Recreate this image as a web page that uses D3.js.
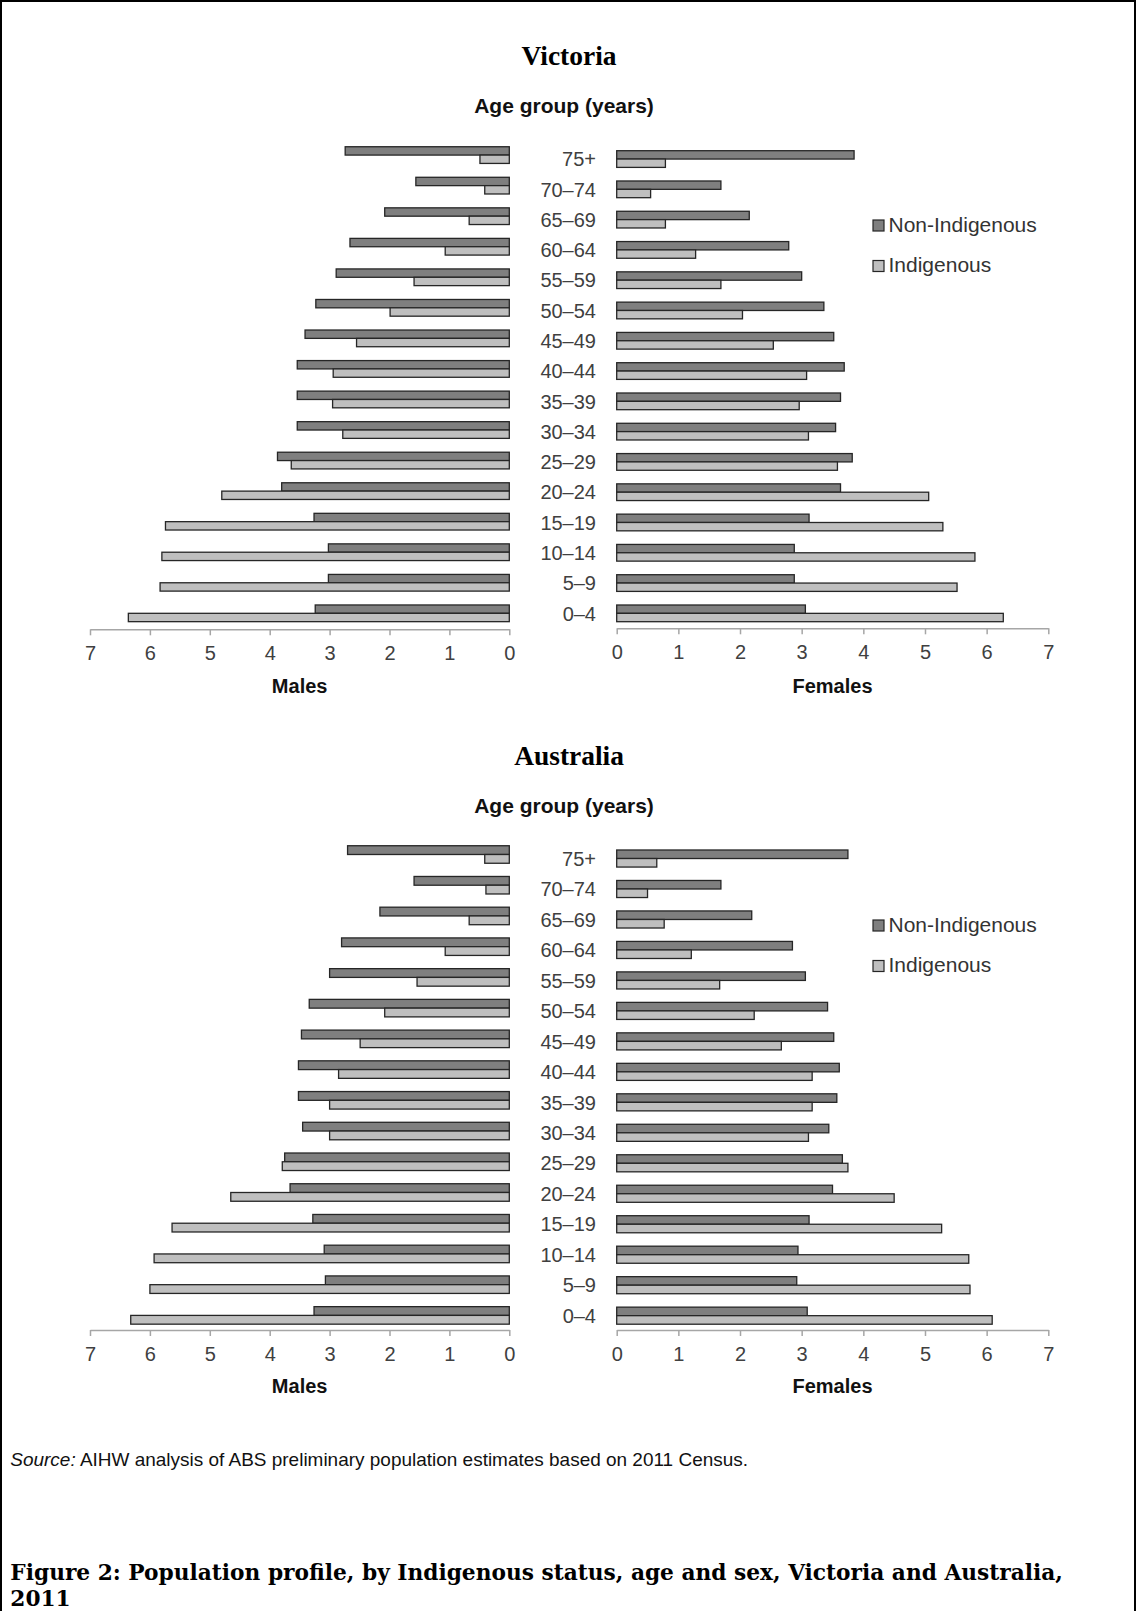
<!DOCTYPE html>
<html><head><meta charset="utf-8">
<script src="https://cdn.jsdelivr.net/npm/d3@7"></script>
<style>body{margin:0;background:#fff} svg{display:block}</style>
</head><body><div id="chart"></div>
<script>
// ---------- DATA ----------
const ageGroups = ["75+","70–74","65–69","60–64","55–59","50–54","45–49","40–44","35–39","30–34","25–29","20–24","15–19","10–14","5–9","0–4"];
const xTicks = [0,1,2,3,4,5,6,7];
const seriesNames = ["Non-Indigenous","Indigenous"];
const panelTitles = ["Victoria","Australia"];

const vicMalesNonIndigenous   = [2.74,1.56,2.08,2.66,2.89,3.23,3.41,3.54,3.54,3.54,3.87,3.80,3.26,3.02,3.02,3.24];
const vicMalesIndigenous      = [0.49,0.41,0.67,1.07,1.59,1.99,2.55,2.94,2.95,2.78,3.64,4.80,5.74,5.80,5.83,6.36];
const vicFemalesNonIndigenous = [3.85,1.69,2.15,2.79,3.00,3.36,3.52,3.69,3.63,3.55,3.82,3.63,3.12,2.88,2.88,3.06];
const vicFemalesIndigenous    = [0.79,0.55,0.79,1.28,1.69,2.04,2.54,3.08,2.96,3.11,3.58,5.06,5.29,5.81,5.52,6.27];

const ausMalesNonIndigenous   = [2.70,1.59,2.16,2.80,3.00,3.34,3.47,3.52,3.52,3.45,3.75,3.66,3.28,3.09,3.07,3.26];
const ausMalesIndigenous      = [0.41,0.39,0.67,1.07,1.54,2.08,2.49,2.85,3.00,3.00,3.79,4.65,5.63,5.93,6.00,6.32];
const ausFemalesNonIndigenous = [3.75,1.69,2.19,2.85,3.06,3.42,3.52,3.61,3.57,3.44,3.66,3.50,3.12,2.94,2.92,3.09];
const ausFemalesIndigenous    = [0.65,0.50,0.77,1.21,1.67,2.23,2.67,3.17,3.17,3.11,3.75,4.50,5.27,5.71,5.73,6.09];

const sourceLabel = "Source:";
const sourceText = " AIHW analysis of ABS preliminary population estimates based on 2011 Census.";
const captionLines = ["Figure 2: Population profile, by Indigenous status, age and sex, Victoria and Australia,","2011"];

// ---------- TABLES BUILT FROM DATA ----------
const panels = [
  {title: panelTitles[0], males: [vicMalesNonIndigenous, vicMalesIndigenous], females: [vicFemalesNonIndigenous, vicFemalesIndigenous]},
  {title: panelTitles[1], males: [ausMalesNonIndigenous, ausMalesIndigenous], females: [ausFemalesNonIndigenous, ausFemalesIndigenous]}
];

// ---------- LAYOUT / STYLE ----------
const W = 1136, H = 1611;
const SANS = "'Liberation Sans', Arial, Helvetica, sans-serif";
const SERIF = "'Liberation Serif', 'Times New Roman', serif";
const CAPSERIF = "'DejaVu Serif', 'Liberation Serif', serif";
const fills = ["#7f7f7f", "#bfbfbf"];
const barStroke = "#262626";
const textGrey = "#404040";
const layout = [
  {dy: 0,   male: {range:[139.1, 629.3], inner:0.4534, outer:0.25}, female: {range:[144.1, 628.3], inner:0.4487, outer:0.218}},
  {dy: 700, male: {range:[839.9, 1330],  inner:0.43,   outer:0.19}, female: {range:[844.2, 1330],  inner:0.44,   outer:0.19}}
];

const svg = d3.select("#chart").append("svg").attr("width", W).attr("height", H);
svg.append("rect").attr("width", W).attr("height", H).attr("fill", "#fff");
svg.append("rect").attr("x", 1).attr("y", 1).attr("width", W - 2).attr("height", H + 20)
  .attr("fill", "none").attr("stroke", "#000").attr("stroke-width", 2);

const xMale = d3.scaleLinear().domain([0, 7]).range([509.3, 90]);
const xFemale = d3.scaleLinear().domain([0, 7]).range([616.7, 1048.3]);

function fitWidth(sel, w) {
  const l = sel.node().getComputedTextLength();
  const fs = parseFloat(sel.attr("font-size"));
  sel.attr("font-size", (fs * w / l).toFixed(2));
  return fs * w / l;
}

let titleSize = null;
panels.forEach((p, pi) => {
  const L = layout[pi];
  const g = svg.append("g").attr("transform", `translate(0,${L.dy})`);

  const t = g.append("text").attr("x", 569).attr("y", 65).attr("text-anchor", "middle")
    .attr("font-family", SERIF).attr("font-weight", "bold").attr("font-size", 26).attr("fill", "#000")
    .text(p.title);
  if (titleSize === null) titleSize = fitWidth(t, 95); else t.attr("font-size", titleSize.toFixed(2));

  g.append("text").attr("x", 564).attr("y", 113).attr("text-anchor", "middle")
    .attr("font-family", SANS).attr("font-weight", "bold").attr("font-size", 21).attr("fill", "#111")
    .text("Age group (years)");

  const yM = d3.scaleBand().domain(ageGroups).range(L.male.range.map(v => v - L.dy))
    .paddingInner(L.male.inner).paddingOuter(L.male.outer);
  const yF = d3.scaleBand().domain(ageGroups).range(L.female.range.map(v => v - L.dy))
    .paddingInner(L.female.inner).paddingOuter(L.female.outer);

  p.males.forEach((arr, si) => {
    g.append("g").selectAll("rect").data(arr).join("rect")
      .attr("x", d => xMale(d))
      .attr("width", d => xMale(0) - xMale(d))
      .attr("y", (d, i) => yM(ageGroups[i]) + si * yM.bandwidth() / 2)
      .attr("height", yM.bandwidth() / 2)
      .attr("fill", fills[si]).attr("stroke", barStroke).attr("stroke-width", 1.3);
  });
  p.females.forEach((arr, si) => {
    g.append("g").selectAll("rect").data(arr).join("rect")
      .attr("x", xFemale(0))
      .attr("width", d => xFemale(d) - xFemale(0))
      .attr("y", (d, i) => yF(ageGroups[i]) + si * yF.bandwidth() / 2)
      .attr("height", yF.bandwidth() / 2)
      .attr("fill", fills[si]).attr("stroke", barStroke).attr("stroke-width", 1.3);
  });

  g.append("g").selectAll("text").data(ageGroups).join("text")
    .attr("x", 596).attr("y", d => yF(d) + yF.bandwidth() / 2)
    .attr("dy", "0.36em").attr("text-anchor", "end")
    .attr("font-family", SANS).attr("font-size", 20).attr("fill", textGrey)
    .text(d => d);

  function styleAxis(ax) {
    ax.select(".domain").attr("stroke", "#a6a6a6").attr("stroke-width", 1.5);
    ax.selectAll(".tick line").attr("stroke", "#a6a6a6").attr("stroke-width", 1.5);
    ax.selectAll(".tick text").attr("font-family", SANS).attr("font-size", 20).attr("fill", textGrey);
  }
  const axM = g.append("g").attr("transform", `translate(0,${L.male.range[1] - L.dy})`)
    .call(d3.axisBottom(xMale).tickValues(xTicks).tickSizeInner(6).tickSizeOuter(0).tickPadding(11).tickFormat(d3.format("d")));
  styleAxis(axM);
  const axF = g.append("g").attr("transform", `translate(0,${L.female.range[1] - L.dy})`)
    .call(d3.axisBottom(xFemale).tickValues(xTicks).tickSizeInner(6).tickSizeOuter(0).tickPadding(11).tickFormat(d3.format("d")));
  styleAxis(axF);

  g.append("text").attr("x", (xMale(0) + xMale(7)) / 2).attr("y", 693.3).attr("text-anchor", "middle")
    .attr("font-family", SANS).attr("font-weight", "bold").attr("font-size", 20).attr("fill", "#111").text("Males");
  g.append("text").attr("x", (xFemale(0) + xFemale(7)) / 2).attr("y", 693.3).attr("text-anchor", "middle")
    .attr("font-family", SANS).attr("font-weight", "bold").attr("font-size", 20).attr("fill", "#111").text("Females");

  const leg = g.append("g").selectAll("g").data(seriesNames).join("g")
    .attr("transform", (d, i) => `translate(873,${220 + i * 40.5})`);
  leg.append("rect").attr("width", 11).attr("height", 11)
    .attr("fill", (d, i) => fills[i]).attr("stroke", barStroke).attr("stroke-width", 1.2);
  leg.append("text").attr("x", 15.5).attr("y", 11.7)
    .attr("font-family", SANS).attr("font-size", 21).attr("fill", "#333").text(d => d);
});

// source
const src = svg.append("text").attr("x", 10.3).attr("y", 1466)
  .attr("font-family", SANS).attr("font-size", 17).attr("fill", "#111");
src.append("tspan").attr("font-style", "italic").text(sourceLabel);
src.append("tspan").text(sourceText);
fitWidth(src, 738);

// caption (two lines)
const cap1 = svg.append("text").attr("x", 10.3).attr("y", 1580)
  .attr("font-family", CAPSERIF).attr("font-weight", "bold").attr("font-size", 22).attr("fill", "#000")
  .text(captionLines[0]);
const capSize = Math.min(fitWidth(cap1, 1053), 24);
cap1.attr("font-size", capSize.toFixed(2));
svg.append("text").attr("x", 10.3).attr("y", 1606)
  .attr("font-family", CAPSERIF).attr("font-weight", "bold").attr("font-size", capSize.toFixed(2)).attr("fill", "#000")
  .text(captionLines[1]);
</script>
</body></html>
